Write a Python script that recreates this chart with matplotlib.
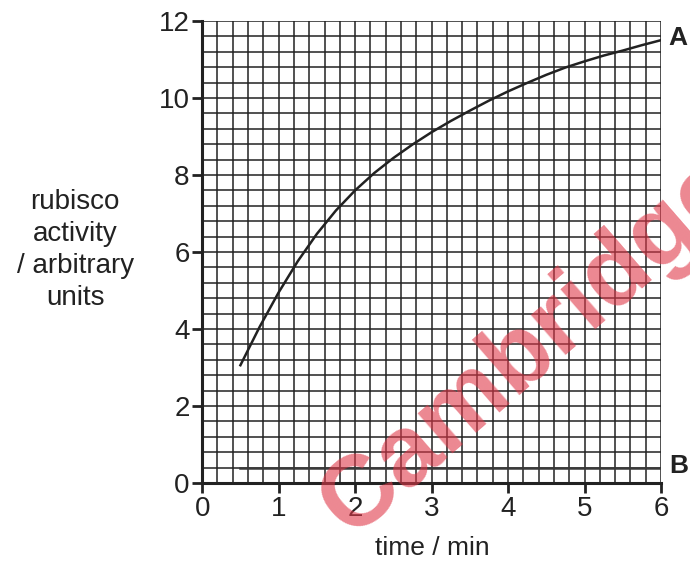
import numpy as np
import matplotlib.pyplot as plt

plt.rcParams['font.family'] = ['Liberation Sans', 'DejaVu Sans']

# curve A
time_a = [0.5, 0.75, 1.0, 1.25, 1.5, 1.75, 2.0, 2.25, 2.5, 2.75, 3.0, 3.25,
          3.5, 3.75, 4.0, 4.25, 4.5, 4.75, 5.0, 5.25, 5.5, 5.75, 6.0]
act_a = [3.06, 4.05, 4.95, 5.76, 6.47, 7.08, 7.6, 8.05, 8.44, 8.79, 9.11, 9.4,
         9.67, 9.93, 10.17, 10.39, 10.6, 10.79, 10.95, 11.1, 11.23, 11.37, 11.5]
# line B
time_b = [0.5, 6.0]
act_b = [0.4, 0.4]

xticks = [0, 1, 2, 3, 4, 5, 6]
yticks = [0, 2, 4, 6, 8, 10, 12]

fig = plt.figure(figsize=(6.9, 5.65), dpi=100)
ax = fig.add_axes([0.293, 0.145, 0.665, 0.818])

# graph paper grid
for gx in np.arange(0.2, 6.01, 0.2):
    ax.axvline(gx, color='#222222', lw=1.1, zorder=1)
for gy in np.arange(0.4, 12.01, 0.4):
    ax.axhline(gy, color='#222222', lw=1.1, zorder=1)

ax.plot(time_b, act_b, color='#3a3a3a', lw=1.8, zorder=2)
ax.plot(time_a, act_a, color='#222222', lw=1.8, zorder=3, solid_joinstyle='round')

ax.set_xlim(0, 6)
ax.set_ylim(0, 12)
ax.set_xticks(xticks)
ax.set_yticks(yticks)
ax.tick_params(direction='out', length=7, width=2, labelsize=20, pad=2, colors='#222222')
for s in ['top', 'right']:
    ax.spines[s].set_visible(False)
for s in ['left', 'bottom']:
    ax.spines[s].set_linewidth(2.2)
    ax.spines[s].set_color('#222222')

fig.text(0.109, 0.558, 'rubisco\nactivity\n/ arbitrary\nunits', ha='center', va='center',
         fontsize=20, linespacing=1.3, color='#222222')
fig.text(0.626, 0.03, 'time / min', ha='center', va='center', fontsize=19, color='#222222')
fig.text(0.983, 0.932, 'A', ha='center', va='center', fontsize=19, fontweight='bold', color='#222222')
fig.text(0.983, 0.175, 'B', ha='center', va='center', fontsize=19, fontweight='bold', color='#222222')

# watermark
fig.text(0.77, 0.385, 'Cambridge', ha='center', va='center', rotation=41, fontsize=72,
         fontweight='bold', color='#e03848', alpha=0.6, zorder=10)

fig.savefig('out.png', dpi=100)
